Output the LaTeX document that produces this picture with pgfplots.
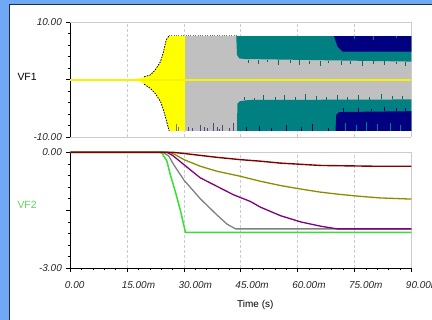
\documentclass[border=0pt]{standalone}
\usepackage{pgfplots}
\pgfplotsset{compat=1.18}
\usepackage{fontspec}
\setmainfont{Liberation Sans}
\definecolor{frameblue}{HTML}{6FA8F5}
\definecolor{framedark}{HTML}{1E2C48}
\definecolor{vfyellow}{HTML}{FFFF00}
\definecolor{yline}{HTML}{F4F400}
\definecolor{vfgray}{HTML}{C0C0C0}
\definecolor{vfteal}{HTML}{008080}
\definecolor{darkteal}{HTML}{006C6C}
\definecolor{vfnavy}{HTML}{000080}
\definecolor{spikenavy}{HTML}{4A4A7A}
\definecolor{spikegray}{HTML}{7A7A7A}
\definecolor{cgreen}{HTML}{33E033}
\definecolor{cgray}{HTML}{808080}
\definecolor{cpurple}{HTML}{800080}
\definecolor{colive}{HTML}{8C8C00}
\definecolor{cmaroon}{HTML}{800000}
\definecolor{gridc}{HTML}{CCCCCC}
\definecolor{labgreen}{HTML}{5CD65C}
\definecolor{envdot}{HTML}{737373}
\pgfplotsset{
  panel/.style={
    scale only axis, width=341bp,
    xmin=0, xmax=90, clip=false,
    axis x line*=bottom, axis y line*=left,
    tick align=outside,
    major tick length=4bp, minor tick length=2bp,
    every tick/.style={black, line width=0.6pt},
    xmajorgrids, major grid style={gridc, dash pattern=on 3bp off 2bp, line width=0.6pt},
    xtick={0,15,30,45,60,75,90},
    tick label style={font=\fontsize{10}{12}\selectfont\itshape, text=black!85, inner sep=0pt},
    yticklabel style={anchor=east, xshift=-4.3bp},
    minor y tick num=4,
    y axis line style={black, line width=0.7pt},
  }
}
\begin{document}
\begin{tikzpicture}
\useasboundingbox (0bp,0bp) rectangle (432bp,320bp);
\fill[frameblue] (0bp,0bp) rectangle (432bp,320bp);
\fill[white] (10bp,0bp) rectangle (432bp,315bp);
\draw[framedark, line width=1.2bp] (9.6bp,0bp) -- (9.6bp,315.4bp) -- (432bp,315.4bp);

% ---------------- VF1 ----------------
\begin{axis}[panel, at={(70.3bp,183bp)}, anchor=south west, height=114.7bp,
  ymin=-10, ymax=10, ytick={-10,0,10}, yticklabels={-10.00,,10.00},
  xticklabels={}, x axis line style={gridc, line width=0.6pt},
  xtick style={draw=none}]
\draw[gridc, line width=0.6pt] (rel axis cs:0,1) -- (rel axis cs:1,1) -- (rel axis cs:1,0);
% gray block
\addplot[fill=vfgray, draw=none] coordinates {(30.3,7.6) (90,7.6) (90,-8.95) (30.3,-8.95)} --cycle;
% yellow growing oscillation
\addplot[fill=vfyellow, draw=none] coordinates {
 (15,0.05) (18.5,0.23) (21.1,0.81) (22.4,1.68) (23.8,3.13) (24.6,4.87) (25.3,6.91) (26.0,7.6)
 (30.3,7.6) (30.3,-8.95) (26.1,-8.95) (25.3,-7.0) (24.6,-5.3) (23.8,-3.8) (22.4,-2.4)
 (21.1,-1.5) (18.5,-0.36) (15,-0.05)} --cycle;
% teal bands
\addplot[fill=vfteal, draw=none] coordinates {(43.8,7.6) (90,7.6) (90,3.15) (46,3.6) (44.6,3.7) (44.0,4.3)} --cycle;
\addplot[fill=vfteal, draw=none] coordinates {(44.0,-8.95) (44.1,-4.2) (44.8,-3.75) (47,-3.55) (90,-3.45) (90,-8.95)} --cycle;
% navy bands
\addplot[fill=vfnavy, draw=none] coordinates {(69.6,7.6) (90,7.6) (90,4.9) (71.8,4.9) (70.5,5.8)} --cycle;
\addplot[fill=vfnavy, draw=none] coordinates {(70.0,-8.95) (70.2,-6.1) (71.0,-5.65) (90,-5.5) (90,-8.95)} --cycle;
% spikes
\addplot[draw=spikegray, line width=0.6bp, unbounded coords=jump] coordinates {
 (27.9,-8.95) (27.9,-7.8) (27.9,nan) (28.6,-8.95) (28.6,-8.2)};
\addplot[draw=spikenavy, line width=0.6bp, unbounded coords=jump] coordinates {
 (31.2,-8.95) (31.2,-8.2) (31.2,nan) (32.1,-8.95) (32.1,-8.5) (32.1,nan)
 (34.3,-8.95) (34.3,-7.9) (34.3,nan) (35.4,-8.95) (35.4,-8.3) (35.4,nan)
 (36.1,-8.95) (36.1,-8.5) (36.1,nan) (37.8,-8.95) (37.8,-7.6) (37.8,nan)
 (38.7,-8.95) (38.7,-8.2) (38.7,nan) (39.2,-8.95) (39.2,-8.6) (39.2,nan)
 (40.1,-8.95) (40.1,-7.9) (40.1,nan) (42.0,-8.95) (42.0,-8.5) (42.0,nan)
 (43.1,-8.95) (43.1,-7.5)};
\addplot[draw=darkteal, line width=0.6bp, unbounded coords=jump] coordinates {
 (47,3.5) (47,2.9) (47,nan) (49.5,3.5) (49.5,2.7) (49.5,nan) (52,3.45) (52,3.0) (52,nan)
 (55,3.4) (55,2.5) (55,nan) (58,3.4) (58,2.9) (58,nan) (60.5,3.35) (60.5,2.6) (60.5,nan)
 (63,3.3) (63,2.8) (63,nan) (66,3.3) (66,2.4) (66,nan) (68,3.3) (68,2.9) (68,nan)
 (71.5,3.25) (71.5,2.6) (71.5,nan) (74,3.25) (74,2.8) (74,nan) (77,3.2) (77,2.3) (77,nan)
 (80,3.2) (80,2.7) (80,nan) (83,3.2) (83,2.5) (83,nan) (86,3.15) (86,2.7) (86,nan)
 (88.5,3.15) (88.5,2.4)};
\addplot[draw=darkteal, line width=0.6bp, unbounded coords=jump] coordinates {
 (46,-3.6) (46,-3.0) (46,nan) (48.5,-3.55) (48.5,-3.2) (48.5,nan) (51,-3.5) (51,-2.7) (51,nan)
 (54,-3.5) (54,-3.0) (54,nan) (56.5,-3.5) (56.5,-2.6) (56.5,nan) (59.5,-3.5) (59.5,-3.1) (59.5,nan)
 (62,-3.5) (62,-2.5) (62,nan) (65,-3.5) (65,-2.9) (65,nan) (67.5,-3.5) (67.5,-3.1) (67.5,nan)
 (70.5,-3.5) (70.5,-2.7) (70.5,nan) (73,-3.5) (73,-3.0) (73,nan) (76,-3.5) (76,-2.6) (76,nan)
 (79,-3.5) (79,-3.1) (79,nan) (82,-3.45) (82,-2.5) (82,nan) (85,-3.45) (85,-2.9) (85,nan)
 (87.5,-3.45) (87.5,-2.8)};
\addplot[draw=vfnavy, line width=0.6bp, unbounded coords=jump] coordinates {
 (46.5,-8.95) (46.5,-8.3) (46.5,nan) (50,-8.95) (50,-8.0) (50,nan) (53,-8.95) (53,-8.4) (53,nan)
 (57,-8.95) (57,-7.9) (57,nan) (61,-8.95) (61,-8.3) (61,nan) (64,-8.95) (64,-7.8) (64,nan)
 (68,-8.95) (68,-8.4) (68,nan)
 (72,-5.6) (72,-5.0) (72,nan) (76,-5.6) (76,-4.9) (76,nan) (79.5,-5.55) (79.5,-5.1) (79.5,nan)
 (83,-5.55) (83,-4.8) (83,nan) (86,-5.5) (86,-5.0) (86,nan) (88.5,-5.5) (88.5,-4.9)};
\addplot[draw=vfteal, line width=0.6bp, unbounded coords=jump] coordinates {
 (72.5,-8.95) (72.5,-7.6) (72.5,nan) (75.5,-8.95) (75.5,-7.9) (75.5,nan) (78,-8.95) (78,-7.4) (78,nan)
 (81,-8.95) (81,-7.8) (81,nan) (84.5,-8.95) (84.5,-7.5) (84.5,nan) (87,-8.95) (87,-7.9) (87,nan)
 (75,7.6) (75,7.1) (75,nan) (80,7.6) (80,7.0) (80,nan) (86,7.6) (86,7.2)};
% envelope
\addplot[draw=black, line width=0.8bp, dash pattern=on 1.5bp off 1.2bp] coordinates {
 (19.5,0.5) (21.1,0.81) (22.4,1.68) (23.8,3.13) (24.6,4.87) (25.3,6.91) (26.0,7.6)};
\addplot[draw=black, line width=0.8bp, dash pattern=on 1.5bp off 1.2bp] coordinates {
 (19.5,-0.8) (21.1,-1.5) (22.4,-2.4) (23.8,-3.8) (24.6,-5.3) (25.3,-7.0) (26.1,-8.95)};
\addplot[draw=envdot, line width=0.6bp, dash pattern=on 0.8bp off 1.6bp] coordinates {(26.0,7.65) (43.8,7.65)};
% centre line (thin filled band)
\addplot[fill=yline, draw=none] coordinates {(0,0.16) (90,0.16) (90,-0.16) (0,-0.16)} --cycle;
\end{axis}

% ---------------- VF2 ----------------
\begin{axis}[panel, at={(70.3bp,51.7bp)}, anchor=south west, height=116bp,
  ymin=-3, ymax=0, ytick={-3,-1.5,0}, yticklabels={-3.00,,0.00},
  minor x tick num=4,
  x axis line style={black, line width=0.7pt},
  xticklabels={0.00,15.00m,30.00m,45.00m,60.00m,75.00m,90.00m},
  xticklabel style={anchor=north west, xshift=-5.5bp, yshift=-9.4bp}]
\draw[gridc, line width=0.6pt] (rel axis cs:0,1) -- (rel axis cs:1,1) -- (rel axis cs:1,0);
\addplot[draw=cgreen, line width=1.5bp] coordinates {
 (0,0) (23.5,0) (24.2,-0.02) (25.5,-0.23) (26.4,-0.58) (27.7,-1.01) (29.0,-1.48) (30.4,-2.07) (90,-2.07)};
\addplot[draw=cgray, line width=1.3bp] coordinates {
 (0,0) (24.5,0) (26,-0.1) (27.3,-0.32) (30,-0.72) (34.3,-1.2) (38.7,-1.62) (41.4,-1.86) (43.6,-1.98) (90,-1.98)};
\addplot[draw=cpurple, line width=1.3bp] coordinates {
 (0,0) (25.5,0) (27,-0.08) (30,-0.32) (34.3,-0.66) (38.7,-0.88) (43.1,-1.1) (47.5,-1.27)
 (50.2,-1.42) (55.5,-1.64) (60.8,-1.80) (66,-1.91) (70.4,-1.98) (90,-1.98)};
\addplot[draw=colive, line width=1.3bp] coordinates {
 (0,0) (26.0,0) (27.5,-0.05) (30,-0.19) (34.3,-0.36) (38.7,-0.49) (44.9,-0.62) (50.2,-0.75)
 (55.5,-0.86) (60.8,-0.95) (66,-1.03) (71.3,-1.09) (76.6,-1.14) (81.8,-1.18) (90,-1.21)};
\addplot[draw=cmaroon, line width=1.4bp] coordinates {
 (0,0) (27.0,0) (30,-0.03) (34.3,-0.08) (38.7,-0.13) (44.9,-0.19) (50.2,-0.23) (55.5,-0.28)
 (60.8,-0.31) (66,-0.34) (73,-0.35) (80,-0.36) (90,-0.36)};
\end{axis}

\node[anchor=west, font=\fontsize{10.5}{12}\selectfont] at (14bp,243.3bp) {VF1};
\node[anchor=west, font=\fontsize{10.5}{12}\selectfont, text=labgreen] at (14bp,115bp) {VF2};
\node[font=\fontsize{10}{12}\selectfont] at (255.3bp,15bp) {Time (s)};
\end{tikzpicture}
\end{document}
